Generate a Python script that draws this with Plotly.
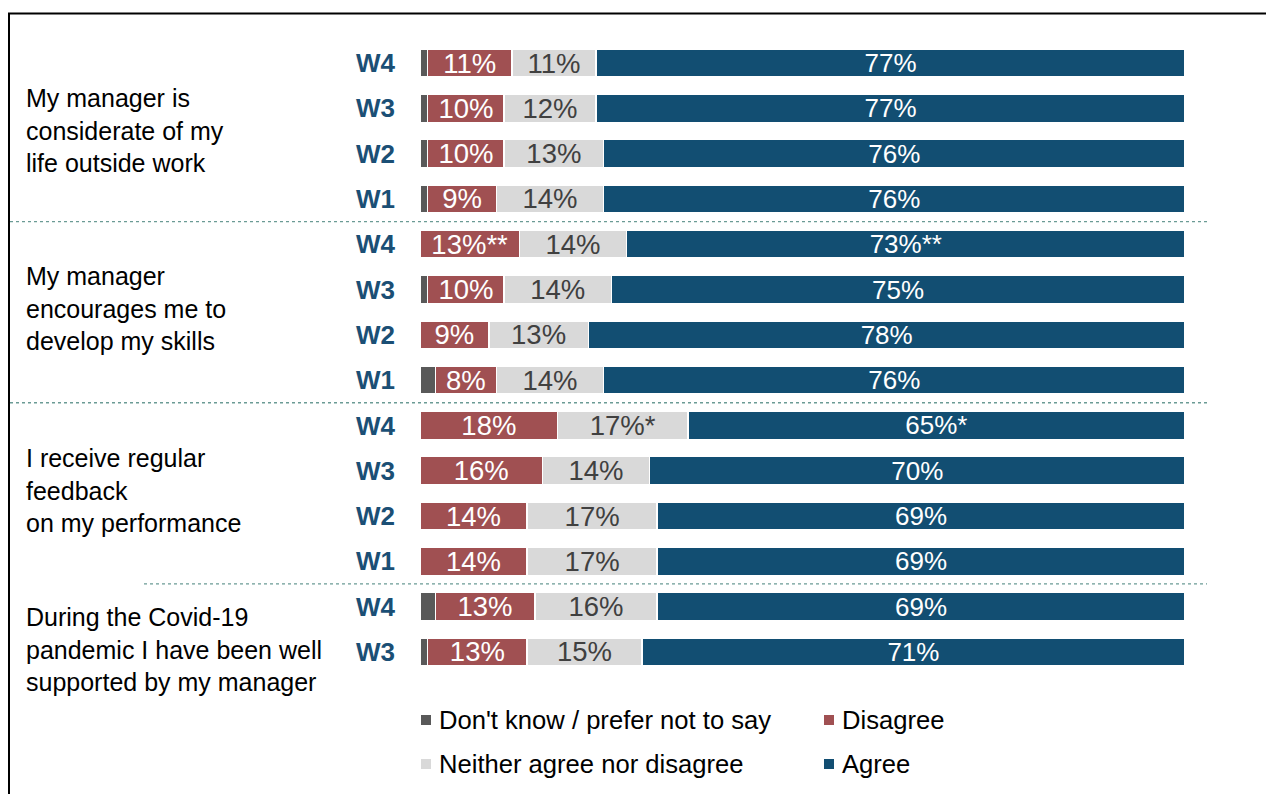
import plotly.graph_objects as go

# ---------------- data ----------------
questions = [
    "My manager is<br>considerate of my<br>life outside work",
    "My manager<br>encourages me to<br>develop my skills",
    "I receive regular<br>feedback<br>on my performance",
    "During the Covid-19<br>pandemic I have been well<br>supported by my manager",
]
waves = ["W4", "W3", "W2", "W1", "W4", "W3", "W2", "W1",
         "W4", "W3", "W2", "W1", "W4", "W3"]
dont_know = [1, 1, 1, 1, 0, 1, 0, 2, 0, 0, 0, 0, 2, 1]
disagree = [11, 10, 10, 9, 13, 10, 9, 8, 18, 16, 14, 14, 13, 13]
neither = [11, 12, 13, 14, 14, 14, 13, 14, 17, 14, 17, 17, 16, 15]
agree = [77, 77, 76, 76, 73, 75, 78, 76, 65, 70, 69, 69, 69, 71]
disagree_labels = ["11%", "10%", "10%", "9%", "13%**", "10%", "9%", "8%",
                   "18%", "16%", "14%", "14%", "13%", "13%"]
neither_labels = ["11%", "12%", "13%", "14%", "14%", "14%", "13%", "14%",
                  "17%*", "14%", "17%", "17%", "16%", "15%"]
agree_labels = ["77%", "77%", "76%", "76%", "73%**", "75%", "78%", "76%",
                "65%*", "70%", "69%", "69%", "69%", "71%"]
series_names = ["Don't know / prefer not to say", "Disagree",
                "Neither agree nor disagree", "Agree"]
colors = ["#595959", "#a05052", "#d9d9d9", "#124e72"]
text_colors = ["#ffffff", "#ffffff", "#404040", "#ffffff"]
text_sizes = [26, 27.5, 27.5, 26]

# ---------------- layout helpers ----------------
W, H = 1266, 794
FONT = "Liberation Sans, Arial, sans-serif"


def px(x):
    return x / W


def py(y):
    return 1 - y / H


rows = list(range(len(waves)))
row_top_px, row_step_px = 63, 45.3
y_top = row_top_px - row_step_px / 2
y_bot = row_top_px + row_step_px * (len(rows) - 1) + row_step_px / 2

fig = go.Figure()
series_values = [dont_know, disagree, neither, agree]
series_text = [None, disagree_labels, neither_labels, agree_labels]
for name, vals, txt, col, tcol, tsize in zip(series_names, series_values, series_text,
                                             colors, text_colors, text_sizes):
    fig.add_trace(go.Bar(
        name=name, orientation="h", x=vals, y=rows,
        width=0.62,
        marker=dict(color=col, line=dict(color="#ffffff", width=1.5)),
        text=txt, textposition="inside" if txt else "none",
        insidetextanchor="middle", textangle=0, constraintext="none",
        insidetextfont=dict(family=FONT, size=tsize, color=tcol),
        showlegend=False, hoverinfo="x+name",
    ))

shapes = []
# outer frame
shapes.append(dict(type="rect", xref="paper", yref="paper",
                   x0=px(9), x1=1.02, y0=-0.02, y1=py(13.5),
                   line=dict(color="#000000", width=2), fillcolor="rgba(0,0,0,0)"))
# dashed separators between question groups
for yv, x0 in [(3.5, 10), (7.5, 10), (11.5, 144)]:
    shapes.append(dict(type="line", xref="paper", yref="y",
                       x0=px(x0), x1=px(1207), y0=yv, y1=yv,
                       line=dict(color="#6b9b95", width=1.3, dash="3px,3px")))

annotations = []
label_centers = [1.5, 5.43, 9.43, 12.94]
for q, yc in zip(questions, label_centers):
    annotations.append(dict(text=q, xref="paper", yref="y", x=px(24), y=yc,
                            xanchor="left", yanchor="middle", align="left",
                            showarrow=False,
                            font=dict(family=FONT, size=25, color="#000000")))

# manual legend (2 x 2 grid)
legend_pos = [(426, 720), (829, 720), (426, 764), (829, 764)]
for name, col, (lx, ly) in zip(series_names, colors, legend_pos):
    shapes.append(dict(type="rect", xref="paper", yref="paper",
                       x0=px(lx - 5), x1=px(lx + 5), y0=py(ly + 5), y1=py(ly - 5),
                       line=dict(width=0), fillcolor=col))
    annotations.append(dict(text=name, xref="paper", yref="paper",
                            x=px(lx + 11), y=py(ly), xanchor="left", yanchor="middle",
                            showarrow=False,
                            font=dict(family=FONT, size=25.6, color="#000000")))

fig.update_layout(
    width=W, height=H, autosize=False,
    margin=dict(l=0, r=0, t=0, b=0, pad=0),
    paper_bgcolor="#ffffff", plot_bgcolor="#ffffff",
    barmode="stack",
    font=dict(family=FONT),
    xaxis=dict(domain=[px(420), px(1185)], range=[0, 100], visible=False,
               fixedrange=True),
    yaxis=dict(domain=[py(y_bot), py(y_top)], range=[len(rows) - 0.5, -0.5],
               tickmode="array", tickvals=rows, ticktext=waves,
               ticks="", ticklabelstandoff=24, showgrid=False, zeroline=False,
               showline=False,
               tickfont=dict(family=FONT, size=26, color="#1b4f75", weight="bold"),
               fixedrange=True),
    shapes=shapes,
    annotations=annotations,
    showlegend=False,
)

fig.write_html("out.html",
               config={"displayModeBar": False},
               post_script="document.body.style.margin='0px';"
                           "document.body.style.overflow='hidden';")
